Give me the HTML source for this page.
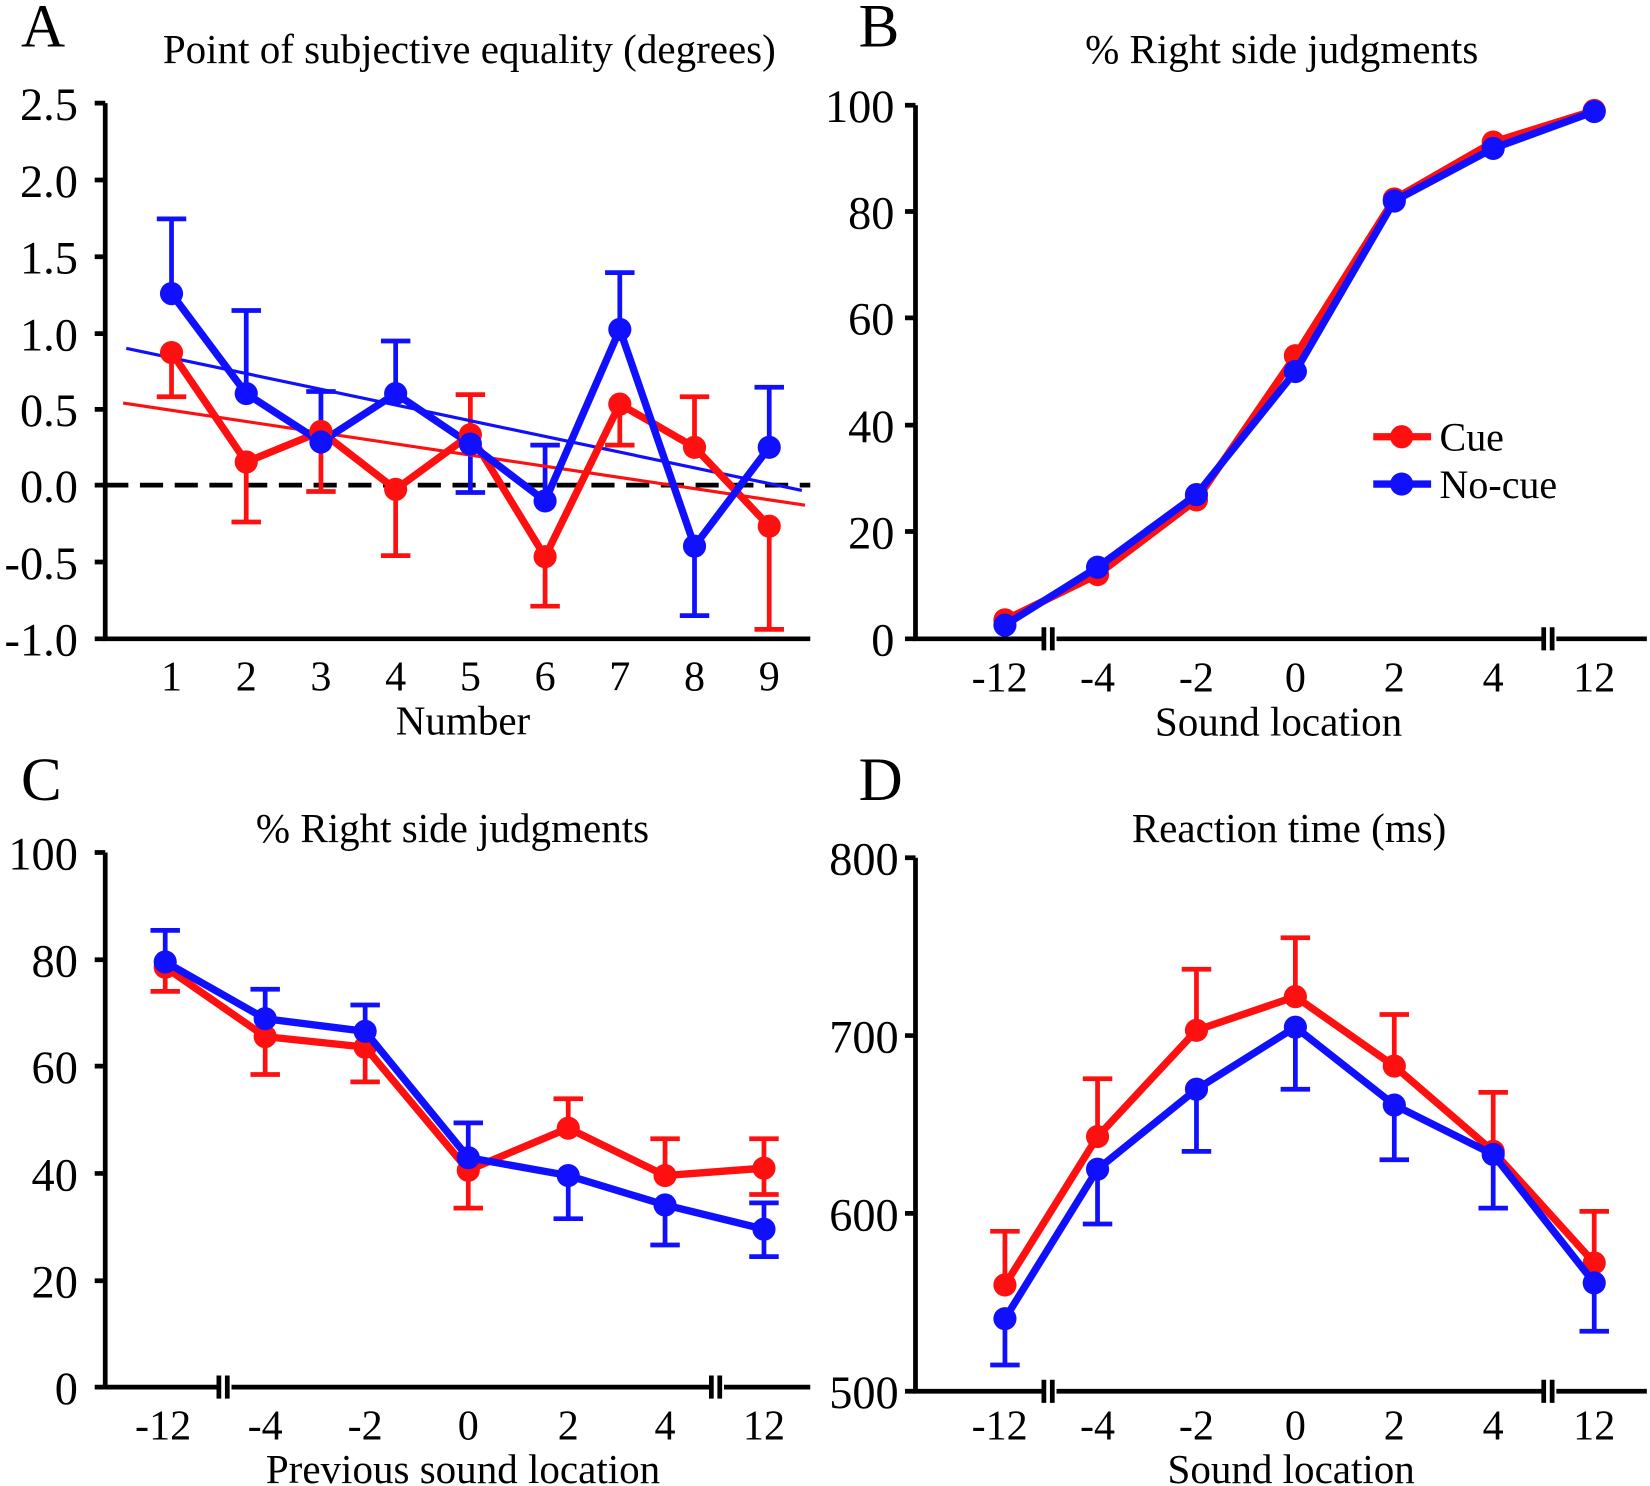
<!DOCTYPE html>
<html><head><meta charset="utf-8"><style>
html,body{margin:0;padding:0;background:#fff;}
svg{display:block;}
text{font-family:"Liberation Serif",serif;fill:#000;}
</style></head><body>
<svg width="1650" height="1486" viewBox="0 0 1568 1412" preserveAspectRatio="none" xmlns="http://www.w3.org/2000/svg">
<g stroke="#000" stroke-width="4.5" fill="none">
<path d="M100 98V607H770"/>
<path d="M90 98H100M90 171H100M90 244H100M90 317H100M90 389H100M90 461H100M90 534H100M90 607H100"/>
<path d="M870 100V607H990M1004 607H1465M1479 607H1565"/>
<path d="M992 596V618M1000 596V618M1467 596V618M1475 596V618"/>
<path d="M860 100H870M860 201H870M860 302H870M860 404H870M860 505H870M860 607H870"/>
<path d="M100 810V1318H206M220 1318H674M688 1318H770"/>
<path d="M208 1307V1329M216 1307V1329M676 1307V1329M684 1307V1329"/>
<path d="M90 810H100M90 912H100M90 1013H100M90 1115H100M90 1217H100M90 1318H100"/>
<path d="M870 815V1322H990M1004 1322H1465M1479 1322H1565"/>
<path d="M992 1311V1333M1000 1311V1333M1467 1311V1333M1475 1311V1333"/>
<path d="M860 815H870M860 984H870M860 1153H870M860 1322H870"/>
</g>
<path d="M100 461H770" stroke="#000" stroke-width="4.5" stroke-dasharray="22 11"/>
<g font-size="58"><text x="20" y="44">A</text><text x="816" y="44">B</text><text x="20" y="760">C</text><text x="816" y="760">D</text></g>
<g font-size="39" text-anchor="middle">
<text x="446" y="60">Point of subjective equality (degrees)</text>
<text x="1218" y="60">% Right side judgments</text>
<text x="430" y="800">% Right side judgments</text>
<text x="1225" y="800">Reaction time (ms)</text>
<text x="440" y="698">Number</text>
<text x="1215" y="699">Sound location</text>
<text x="440" y="1409">Previous sound location</text>
<text x="1227" y="1409">Sound location</text>
</g>
<g font-size="44" text-anchor="end">
<text x="74" y="114">2.5</text><text x="74" y="187">2.0</text><text x="74" y="260">1.5</text><text x="74" y="333">1.0</text><text x="74" y="405">0.5</text><text x="74" y="477">0.0</text><text x="74" y="550">-0.5</text><text x="74" y="623">-1.0</text>
<text x="850" y="116">100</text><text x="850" y="217">80</text><text x="850" y="318">60</text><text x="850" y="420">40</text><text x="850" y="521">20</text><text x="850" y="623">0</text>
<text x="74" y="826">100</text><text x="74" y="928">80</text><text x="74" y="1029">60</text><text x="74" y="1131">40</text><text x="74" y="1233">20</text><text x="74" y="1334">0</text>
<text x="854" y="831">800</text><text x="854" y="1000">700</text><text x="854" y="1169">600</text><text x="854" y="1338">500</text>
</g>
<g font-size="40" text-anchor="middle">
<text x="163" y="656">1</text><text x="234" y="656">2</text><text x="305" y="656">3</text><text x="376" y="656">4</text><text x="447" y="656">5</text><text x="518" y="656">6</text><text x="589" y="656">7</text><text x="660" y="656">8</text><text x="731" y="656">9</text>
<text x="950" y="657">-12</text><text x="1043" y="657">-4</text><text x="1137" y="657">-2</text><text x="1231" y="657">0</text><text x="1325" y="657">2</text><text x="1419" y="657">4</text><text x="1515" y="657">12</text>
<text x="155" y="1368">-12</text><text x="252" y="1368">-4</text><text x="347" y="1368">-2</text><text x="445" y="1368">0</text><text x="540" y="1368">2</text><text x="632" y="1368">4</text><text x="726" y="1368">12</text>
<text x="950" y="1368">-12</text><text x="1043" y="1368">-4</text><text x="1137" y="1368">-2</text><text x="1231" y="1368">0</text><text x="1325" y="1368">2</text><text x="1419" y="1368">4</text><text x="1515" y="1368">12</text>
</g>
<g stroke="#ff1010" stroke-width="4.5" fill="none">
<path d="M163 335V377M149 377H177M234 439V496M220 496H248M305 410V467M291 467H319M376 465V528M362 528H390M447 413V375M433 375H461M518 529V576M504 576H532M589 384V423M575 423H603M660 425V377M646 377H674M731 500V598M717 598H745"/>
</g>
<g stroke="#1010ff" stroke-width="4.5" fill="none">
<path d="M163 279V208M149 208H177M234 374V295M220 295H248M305 420V372M291 372H319M376 374V324M362 324H390M447 422V468M433 468H461M518 476V423M504 423H532M589 313V259M575 259H603M660 519V585M646 585H674M731 425V368M717 368H745"/>
</g>
<path d="M117 383L765 480" stroke="#ff1010" stroke-width="3"/>
<path d="M120 331L762 466" stroke="#1010ff" stroke-width="3"/>
<g stroke-width="7" fill="none" stroke-linejoin="round">
<polyline points="163,335 234,439 305,410 376,465 447,413 518,529 589,384 660,425 731,500" stroke="#ff1010"/>
<polyline points="163,279 234,374 305,420 376,374 447,422 518,476 589,313 660,519 731,425" stroke="#1010ff"/>
</g>
<g fill="#ff1010"><circle cx="163" cy="335" r="11"/><circle cx="234" cy="439" r="11"/><circle cx="305" cy="410" r="11"/><circle cx="376" cy="465" r="11"/><circle cx="447" cy="413" r="11"/><circle cx="518" cy="529" r="11"/><circle cx="589" cy="384" r="11"/><circle cx="660" cy="425" r="11"/><circle cx="731" cy="500" r="11"/></g>
<g fill="#1010ff"><circle cx="163" cy="279" r="11"/><circle cx="234" cy="374" r="11"/><circle cx="305" cy="420" r="11"/><circle cx="376" cy="374" r="11"/><circle cx="447" cy="422" r="11"/><circle cx="518" cy="476" r="11"/><circle cx="589" cy="313" r="11"/><circle cx="660" cy="519" r="11"/><circle cx="731" cy="425" r="11"/></g>
<polyline points="955,589 1043,546 1137,475 1231,338 1325,189 1419,135 1515,105" stroke="#ff1010" stroke-width="7" fill="none"/>
<g fill="#ff1010"><circle cx="955" cy="589" r="11"/><circle cx="1043" cy="546" r="11"/><circle cx="1137" cy="475" r="11"/><circle cx="1231" cy="338" r="11"/><circle cx="1325" cy="189" r="11"/><circle cx="1419" cy="135" r="11"/><circle cx="1515" cy="105" r="11"/></g>
<polyline points="955,594 1043,539 1137,470 1231,353 1325,191 1419,141 1515,106" stroke="#1010ff" stroke-width="7" fill="none"/>
<g fill="#1010ff"><circle cx="955" cy="594" r="11"/><circle cx="1043" cy="539" r="11"/><circle cx="1137" cy="470" r="11"/><circle cx="1231" cy="353" r="11"/><circle cx="1325" cy="191" r="11"/><circle cx="1419" cy="141" r="11"/><circle cx="1515" cy="106" r="11"/></g>
<path d="M1305 415H1360" stroke="#ff1010" stroke-width="7"/><circle cx="1332" cy="415" r="11" fill="#ff1010"/>
<path d="M1305 460H1360" stroke="#1010ff" stroke-width="7"/><circle cx="1332" cy="460" r="11" fill="#1010ff"/>
<text x="1368" y="428" font-size="38">Cue</text><text x="1368" y="473" font-size="38">No-cue</text>
<g stroke="#ff1010" stroke-width="4.5" fill="none">
<path d="M157 919V942M143 942H171M252 985V1021M238 1021H266M347 995V1028M333 1028H361M445 1112V1148M431 1148H459M540 1072V1044M526 1044H554M632 1117V1082M618 1082H646M726 1110V1082M712 1082H740M726 1110V1135M712 1135H740"/>
</g>
<g stroke="#1010ff" stroke-width="4.5" fill="none">
<path d="M157 914V884M143 884H171M252 968V940M238 940H266M347 980V955M333 955H361M445 1100V1067M431 1067H459M540 1117V1158M526 1158H554M632 1145V1183M618 1183H646M726 1168V1194M712 1194H740M726 1168V1143M712 1143H740"/>
</g>
<polyline points="157,919 252,985 347,995 445,1112 540,1072 632,1117 726,1110" stroke="#ff1010" stroke-width="7" fill="none"/>
<g fill="#ff1010"><circle cx="157" cy="919" r="11"/><circle cx="252" cy="985" r="11"/><circle cx="347" cy="995" r="11"/><circle cx="445" cy="1112" r="11"/><circle cx="540" cy="1072" r="11"/><circle cx="632" cy="1117" r="11"/><circle cx="726" cy="1110" r="11"/></g>
<polyline points="157,914 252,968 347,980 445,1100 540,1117 632,1145 726,1168" stroke="#1010ff" stroke-width="7" fill="none"/>
<g fill="#1010ff"><circle cx="157" cy="914" r="11"/><circle cx="252" cy="968" r="11"/><circle cx="347" cy="980" r="11"/><circle cx="445" cy="1100" r="11"/><circle cx="540" cy="1117" r="11"/><circle cx="632" cy="1145" r="11"/><circle cx="726" cy="1168" r="11"/></g>
<g stroke="#ff1010" stroke-width="4.5" fill="none">
<path d="M955 1221V1170M941 1170H969M1043 1080V1025M1029 1025H1057M1137 979V921M1123 921H1151M1231 947V891M1217 891H1245M1325 1013V964M1311 964H1339M1419 1094V1038M1405 1038H1433M1515 1200V1151M1501 1151H1529"/>
</g>
<g stroke="#1010ff" stroke-width="4.5" fill="none">
<path d="M955 1253V1297M941 1297H969M1043 1111V1163M1029 1163H1057M1137 1035V1094M1123 1094H1151M1231 976V1035M1217 1035H1245M1325 1050V1102M1311 1102H1339M1419 1097V1148M1405 1148H1433M1515 1219V1265M1501 1265H1529"/>
</g>
<polyline points="955,1221 1043,1080 1137,979 1231,947 1325,1013 1419,1094 1515,1200" stroke="#ff1010" stroke-width="7" fill="none"/>
<g fill="#ff1010"><circle cx="955" cy="1221" r="11"/><circle cx="1043" cy="1080" r="11"/><circle cx="1137" cy="979" r="11"/><circle cx="1231" cy="947" r="11"/><circle cx="1325" cy="1013" r="11"/><circle cx="1419" cy="1094" r="11"/><circle cx="1515" cy="1200" r="11"/></g>
<polyline points="955,1253 1043,1111 1137,1035 1231,976 1325,1050 1419,1097 1515,1219" stroke="#1010ff" stroke-width="7" fill="none"/>
<g fill="#1010ff"><circle cx="955" cy="1253" r="11"/><circle cx="1043" cy="1111" r="11"/><circle cx="1137" cy="1035" r="11"/><circle cx="1231" cy="976" r="11"/><circle cx="1325" cy="1050" r="11"/><circle cx="1419" cy="1097" r="11"/><circle cx="1515" cy="1219" r="11"/></g>
</svg>
</body></html>
